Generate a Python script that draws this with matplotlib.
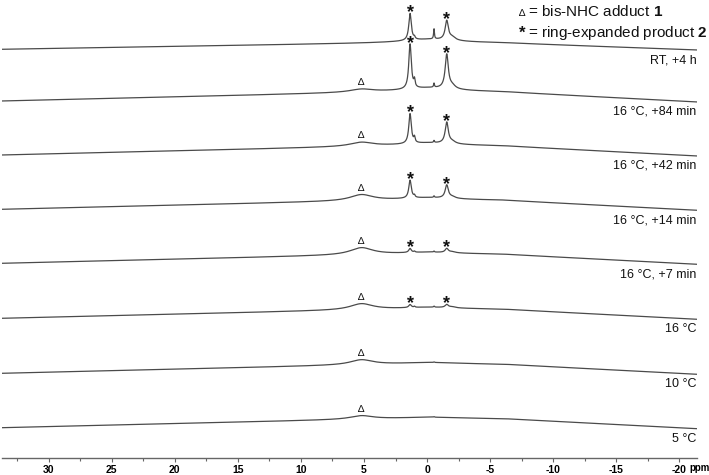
import numpy as np
import matplotlib
matplotlib.use("Agg")
import matplotlib.pyplot as plt

plt.rcParams['font.family'] = ['Liberation Sans', 'DejaVu Sans']
plt.rcParams['mathtext.fontset'] = 'custom'
plt.rcParams['mathtext.rm'] = 'Liberation Sans'
plt.rcParams['mathtext.bf'] = 'Liberation Sans:bold'
plt.rcParams['axes.unicode_minus'] = False

# ---------------- data ----------------
labels = ["RT, +4 h", "16 °C, +84 min", "16 °C, +42 min", "16 °C, +14 min",
          "16 °C, +7 min", "16 °C", "10 °C", "5 °C"]

# peak positions (ppm)
ppm_prod_a = 1.35
ppm_prod_b = -1.56
ppm_shoulder = 1.0
ppm_sharp = -0.55
ppm_side = -2.0
ppm_adduct = 5.2
ppm_broad = -0.3

# peak heights per spectrum (top to bottom)
h_prod_a = [27, 45, 30, 18, 4, 3, 0, 0]
h_prod_b = [19, 34, 21, 13, 4, 3, 0, 0]
h_shoulder = [2, 7, 5, 2, 1, 1, 0, 0]
h_sharp = [10, 4, 2, 1.5, 1, 1, 0.5, 0.5]
h_side = [3, 3, 2, 1.5, 1, 1, 0, 0]
h_adduct = [0, 3, 4, 6, 7, 6, 5, 3.5]
h_broad = [3, 3, 2, 1.5, 1, 1, 0.8, 0.5]

# broad baseline hump of the probe background
hump_ppm = [33.7, 7, 0, -6, -21.4]
hump_rise = [0, 8, 10, 9, -1]
hump_scale = [0.7, 1, 1, 1, 1, 1, 1, 1]

star_traces = [True, True, True, True, True, True, False, False]

tick_values = list(range(30, -21, -5))

# ---------------- layout ----------------
W, H = 709, 475
fig = plt.figure(figsize=(W / 100, H / 100), dpi=100)
axis_px = 458
x_left_px, x_right_px = 2, 697
ax = fig.add_axes([x_left_px / W, (H - axis_px) / H, (x_right_px - x_left_px) / W, axis_px / H])
ax.set_xlim(33.7, -21.4)
ax.set_ylim(0, axis_px)

trace_left_px = [49.3, 101, 155, 209.3, 263.3, 318.3, 373.3, 427.7]

x = np.linspace(33.7, -21.4, 8000)


def lor(x0, hw):
    return 1.0 / (1.0 + ((x - x0) / hw) ** 2)


line_color = '#4a4a4a'
for i in range(len(labels)):
    off = axis_px - trace_left_px[i]
    base = off + hump_scale[i] * np.interp(-x, [-v for v in hump_ppm], hump_rise)
    y = (base
         + h_prod_a[i] * lor(ppm_prod_a, 0.12)
         + h_prod_b[i] * lor(ppm_prod_b, 0.15)
         + h_shoulder[i] * lor(ppm_shoulder, 0.06)
         + h_sharp[i] * lor(ppm_sharp, 0.04)
         + h_side[i] * lor(ppm_side, 0.3)
         + h_adduct[i] * lor(ppm_adduct, 1.1)
         + h_broad[i] * lor(ppm_broad, 2.5))
    ax.plot(x, y, color=line_color, lw=0.9, solid_capstyle='butt')

    # right-hand label
    ax.text(-21.35, off - 11, labels[i], ha='right', va='center', fontsize=9, color='#111111')

    # markers
    if star_traces[i]:
        for p in (ppm_prod_a, ppm_prod_b):
            ytop = np.interp(-p, -x, y)
            ax.text(p, ytop - 4, '*', ha='center', va='baseline', fontsize=13,
                    fontweight='bold', color='#111111')
    if h_adduct[i] > 0:
        ytop = np.interp(-ppm_adduct, -x, y)
        ax.text(ppm_adduct, ytop + 4, '∆', ha='center', va='baseline', fontsize=7.5,
                color='#111111')

# axis styling
for s in ('top', 'left', 'right'):
    ax.spines[s].set_visible(False)
ax.spines['bottom'].set_color('#666666')
ax.spines['bottom'].set_linewidth(1.0)
ax.set_yticks([])
ax.set_xticks(tick_values)
ax.set_xticklabels([str(v) for v in tick_values], fontsize=7.5, fontweight='bold')
ax.set_xticks([v + 2.5 for v in tick_values], minor=True)
ax.tick_params(axis='x', which='major', direction='out', length=3, width=0.8, color='#666666', pad=2)
ax.tick_params(axis='x', which='minor', direction='out', length=2, width=0.8, color='#666666')
ax.patch.set_alpha(0)

fig.text(689 / W, 1 - 468 / H, 'ppm', ha='left', va='center', fontsize=7, fontweight='bold')

# legend
fig.text(522 / W, 1 - 16 / H, '∆', ha='center', va='baseline', fontsize=7.5, color='#111111')
fig.text(528 / W, 1 - 16 / H, r'= bis-NHC adduct $\mathbf{1}$', ha='left', va='baseline',
         fontsize=11, color='#111111')
fig.text(522 / W, 1 - 38 / H, '*', ha='center', va='baseline', fontsize=12,
         fontweight='bold', color='#111111')
fig.text(528 / W, 1 - 37 / H, r'= ring-expanded product $\mathbf{2}$', ha='left', va='baseline',
         fontsize=11, color='#111111')

fig.savefig('out.png', dpi=100)
